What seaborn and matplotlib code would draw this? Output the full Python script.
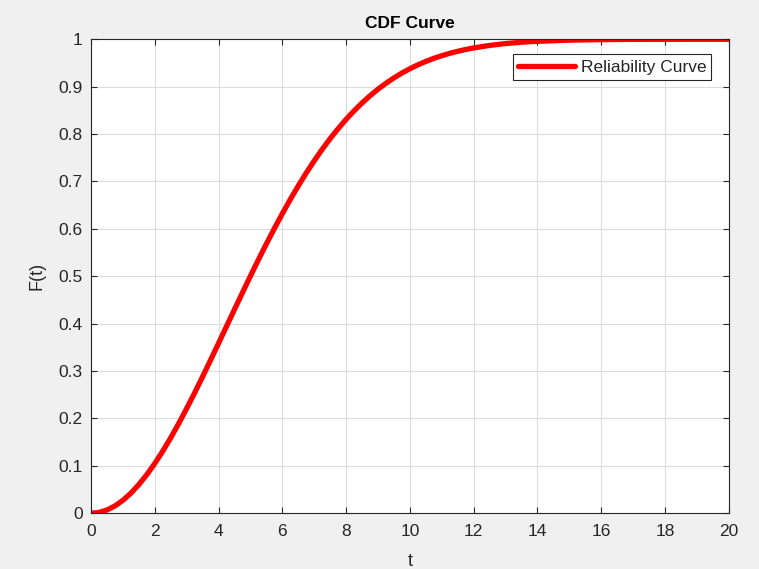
import matplotlib
matplotlib.use("Agg")
import matplotlib.pyplot as plt
import seaborn as sns
import pandas as pd

# Failure-time axis and cumulative failure probability F(t)
t_values = [0, 0.25, 0.5, 0.75, 1, 1.25, 1.5, 1.75, 2, 2.25, 2.5, 2.75, 3,
            3.25, 3.5, 3.75, 4, 4.25, 4.5, 4.75, 5, 5.25, 5.5, 5.75, 6,
            6.25, 6.5, 6.75, 7, 7.25, 7.5, 7.75, 8, 8.25, 8.5, 8.75, 9,
            9.25, 9.5, 9.75, 10, 10.25, 10.5, 10.75, 11, 11.25, 11.5, 11.75,
            12, 12.5, 13, 13.5, 14, 15, 16, 17, 18, 19, 20]
f_values = [0.0, 0.0017, 0.0069, 0.0155, 0.0274, 0.0425, 0.0606, 0.0816,
            0.1052, 0.1312, 0.1594, 0.1895, 0.2212, 0.2542, 0.2884, 0.3234,
            0.3588, 0.3945, 0.4302, 0.4656, 0.5006, 0.5350, 0.5684, 0.6009,
            0.6321, 0.6622, 0.6908, 0.7180, 0.7436, 0.7678, 0.7904, 0.8114,
            0.8310, 0.8490, 0.8656, 0.8808, 0.8946, 0.9071, 0.9185, 0.9287,
            0.9378, 0.9460, 0.9532, 0.9597, 0.9653, 0.9703, 0.9746, 0.9784,
            0.9817, 0.9870, 0.9909, 0.9937, 0.9957, 0.9981, 0.9992, 0.9998,
            0.9999, 1.0, 1.0]

x_ticks = list(range(0, 21, 2))
y_ticks = [0, 0.1, 0.2, 0.3, 0.4, 0.5, 0.6, 0.7, 0.8, 0.9, 1]
y_ticklabels = ["0", "0.1", "0.2", "0.3", "0.4", "0.5", "0.6", "0.7", "0.8", "0.9", "1"]

df = pd.DataFrame({"t": t_values, "F": f_values})

sns.set_theme(style="whitegrid")
plt.rcParams["font.family"] = ["Liberation Sans", "DejaVu Sans"]

ink = "#262626"

fig = plt.figure(figsize=(7.59, 5.69), dpi=100, facecolor="#f0f0f0")
ax = fig.add_axes([0.120, 0.098, 0.840, 0.833])
ax.set_facecolor("white")

sns.lineplot(data=df, x="t", y="F", ax=ax, color="#ff0000", linewidth=3.8,
             label="Reliability Curve", solid_capstyle="round",
             solid_joinstyle="round")

ax.set_xlim(0, 20)
ax.set_ylim(0, 1)
ax.set_xticks(x_ticks)
ax.set_xticklabels([str(v) for v in x_ticks])
ax.set_yticks(y_ticks)
ax.set_yticklabels(y_ticklabels)

ax.grid(True, color="#dcdcdc", linewidth=0.8)
for side in ["left", "right", "top", "bottom"]:
    ax.spines[side].set_visible(True)
    ax.spines[side].set_color(ink)
    ax.spines[side].set_linewidth(0.8)

ax.tick_params(axis="both", which="both", direction="in", length=4, width=0.8,
               color=ink, labelcolor=ink, labelsize=12.5,
               top=True, right=True, bottom=True, left=True)
ax.tick_params(axis="x", pad=8)
ax.tick_params(axis="y", pad=6)

ax.set_title("CDF Curve", fontsize=12.5, fontweight="bold", color="black", pad=8)
ax.set_xlabel("t", fontsize=13, color=ink, labelpad=10)
ax.set_ylabel("F(t)", fontsize=13, color=ink, labelpad=9)

leg = ax.legend(loc="upper right", bbox_to_anchor=(0.973, 0.968),
                fontsize=12.5, frameon=True, fancybox=False,
                handlelength=3.3, borderaxespad=0.0, borderpad=0.3,
                handletextpad=0.3)
leg.get_frame().set_edgecolor(ink)
leg.get_frame().set_linewidth(0.8)
leg.get_frame().set_facecolor("white")
leg.get_frame().set_alpha(1)

fig.savefig("out.png", dpi=100, facecolor=fig.get_facecolor())
